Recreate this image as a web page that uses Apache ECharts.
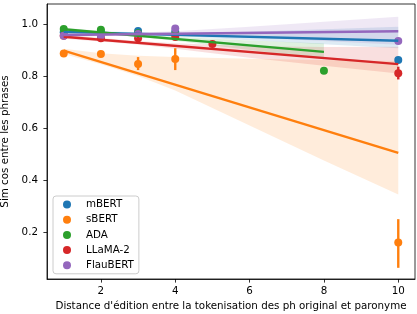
<!DOCTYPE html>
<html>
<head>
<meta charset="utf-8">
<script src="https://cdn.jsdelivr.net/npm/echarts@6/dist/echarts.min.js"></script>
<style>
	html, body {margin: 0; padding: 0; background: #fff;}
	#chart {width: 417px; height: 314px;}
</style>
</head>
<body>
<div id="chart"></div>
<script>
const models = ['mBERT', 'sBERT', 'ADA', 'LLaMA-2', 'FlauBERT'];
const colors = ['#1f77b4', '#ff7f0e', '#2ca02c', '#d62728', '#9467bd'];

const xTicks = [2, 4, 6, 8, 10];
const yTicks = [0.2, 0.4, 0.6, 0.8, 1.0];

// mean points per edit distance
const mbertX = [1, 2, 3, 4, 10];
const mbertY = [0.968, 0.970, 0.973, 0.970, 0.862];
const sbertX = [1, 2, 3, 4, 10];
const sbertY = [0.887, 0.885, 0.846, 0.866, 0.160];
const adaX = [1, 2, 3, 4, 8];
const adaY = [0.981, 0.978, 0.965, 0.962, 0.820];
const llamaX = [1, 2, 3, 4, 5, 10];
const llamaY = [0.955, 0.945, 0.945, 0.950, 0.923, 0.811];
const flauX = [1, 2, 3, 4, 10];
const flauY = [0.955, 0.955, 0.962, 0.983, 0.935];

// error bars [x, low, high]
const sbertErr = [[2, 0.875, 0.895], [3, 0.823, 0.873], [4, 0.823, 0.907], [10, 0.063, 0.250]];
const llamaErr = [[3, 0.936, 0.955], [4, 0.940, 0.962], [10, 0.787, 0.836]];
const flauErr = [[4, 0.974, 0.992]];

// regression lines (ends)
const mbertFit = [[1, 0.970], [10, 0.936]];
const sbertFit = [[1, 0.898], [10, 0.505]];
const adaFit = [[1, 0.980], [8, 0.893]];
const llamaFit = [[1, 0.951], [10, 0.846]];
const flauFit = [[1, 0.958], [10, 0.972]];

// confidence bands
const bandX = [1, 2, 3, 4, 6, 8, 10];
const mbertLo = [0.962, 0.960, 0.957, 0.953, 0.938, 0.922, 0.907];
const mbertHi = [0.978, 0.972, 0.968, 0.966, 0.970, 0.980, 0.990];
const sbertLo = [0.885, 0.845, 0.800, 0.745, 0.610, 0.475, 0.345];
const sbertHi = [0.905, 0.888, 0.878, 0.873, 0.867, 0.862, 0.858];
const adaBandX = [1, 2, 3, 4, 6, 8];
const adaLo = [0.974, 0.963, 0.950, 0.936, 0.900, 0.865];
const adaHi = [0.986, 0.973, 0.960, 0.951, 0.937, 0.925];
const llamaLo = [0.943, 0.933, 0.921, 0.905, 0.870, 0.840, 0.810];
const llamaHi = [0.959, 0.946, 0.935, 0.926, 0.915, 0.912, 0.913];
const flauLo = [0.950, 0.954, 0.956, 0.955, 0.948, 0.935, 0.920];
const flauHi = [0.966, 0.966, 0.967, 0.972, 0.990, 1.009, 1.028];

const font = 'DejaVu Sans';
const fs = 10.3;

function zip(xs, ys) {
	return xs.map(function (x, i) { return [x, ys[i]]; });
}

function pointSeries(name, xs, ys, color) {
	return {
		name: name,
		type: 'scatter',
		z: 2,
		data: zip(xs, ys),
		symbolSize: 8,
		itemStyle: {color: color, opacity: 1},
		silent: true,
	};
}

function bandSeries(name, xs, lo, hi, color) {
	return {
		name: name + ' ci',
		type: 'custom',
		z: 2,
		silent: true,
		data: xs.map(function (x, i) { return [x, lo[i], hi[i]]; }),
		encode: {x: 0, y: [1, 2]},
		renderItem: function (params, api) {
			if (params.dataIndex !== 0) return;
			const pts = [];
			for (let i = 0; i < xs.length; i++) pts.push(api.coord([xs[i], hi[i]]));
			for (let i = xs.length - 1; i >= 0; i--) pts.push(api.coord([xs[i], lo[i]]));
			return {
				type: 'polygon',
				shape: {points: pts},
				style: {fill: color, opacity: 0.15},
			};
		},
	};
}

function errSeries(name, rows, color) {
	return {
		name: name + ' err',
		type: 'custom',
		z: 3,
		silent: true,
		data: rows,
		encode: {x: 0, y: [1, 2]},
		renderItem: function (params, api) {
			const a = api.coord([api.value(0), api.value(1)]);
			const b = api.coord([api.value(0), api.value(2)]);
			return {
				type: 'line',
				shape: {x1: a[0], y1: a[1], x2: b[0], y2: b[1]},
				style: {stroke: color, lineWidth: 2.4},
			};
		},
	};
}

function fitSeries(name, pts, color) {
	return {
		name: name + ' fit',
		type: 'line',
		z: 3,
		data: pts,
		symbol: 'none',
		silent: true,
		lineStyle: {color: color, width: 2.4},
	};
}

const series = [
	pointSeries(models[0], mbertX, mbertY, colors[0]),
	bandSeries(models[0], bandX, mbertLo, mbertHi, colors[0]),
	pointSeries(models[1], sbertX, sbertY, colors[1]),
	bandSeries(models[1], bandX, sbertLo, sbertHi, colors[1]),
	pointSeries(models[2], adaX, adaY, colors[2]),
	bandSeries(models[2], adaBandX, adaLo, adaHi, colors[2]),
	pointSeries(models[3], llamaX, llamaY, colors[3]),
	bandSeries(models[3], bandX, llamaLo, llamaHi, colors[3]),
	pointSeries(models[4], flauX, flauY, colors[4]),
	bandSeries(models[4], bandX, flauLo, flauHi, colors[4]),

	fitSeries(models[0], mbertFit, colors[0]),
	errSeries(models[1], sbertErr, colors[1]),
	fitSeries(models[1], sbertFit, colors[1]),
	fitSeries(models[2], adaFit, colors[2]),
	errSeries(models[3], llamaErr, colors[3]),
	fitSeries(models[3], llamaFit, colors[3]),
	errSeries(models[4], flauErr, colors[4]),
	fitSeries(models[4], flauFit, colors[4]),
];

const chart = echarts.init(document.getElementById('chart'));
chart.setOption({
	animation: false,
	textStyle: {fontFamily: font},
	grid: {
		left: 47,
		right: 2,
		top: 4,
		bottom: 35,
		containLabel: false,
		outerBoundsMode: 'none',
		show: true,
		borderColor: '#000',
		borderWidth: 0.8,
	},
	legend: {
		data: models,
		orient: 'vertical',
		left: 53,
		top: 196,
		icon: 'circle',
		itemWidth: 8,
		itemHeight: 8,
		itemGap: 0.2,
		padding: [1, 5, 1, 10],
		selectedMode: false,
		z: 10,
		backgroundColor: 'rgba(255,255,255,0.8)',
		borderColor: '#ccc',
		borderWidth: 1,
		borderRadius: 3,
		textStyle: {fontFamily: font, fontSize: fs, color: '#000', lineHeight: 15, padding: [0, 0, 0, 10]},
	},
	xAxis: {
		type: 'value',
		min: 0.55,
		max: 10.45,
		name: "Distance d'édition entre la tokenisation des ph original et paronyme",
		nameLocation: 'middle',
		nameGap: 19,
		nameTextStyle: {fontFamily: font, fontSize: fs, color: '#000'},
		axisLine: {show: true, onZero: false, lineStyle: {color: '#000', width: 0.8}},
		axisTick: {show: true, length: 3.6, customValues: xTicks, lineStyle: {color: '#000', width: 0.8}},
		axisLabel: {margin: 7, fontSize: fs, color: '#000', fontFamily: font, customValues: xTicks},
		splitLine: {show: false},
	},
	yAxis: {
		type: 'value',
		min: 0.02,
		max: 1.077,
		name: 'Sim cos entre les phrases',
		nameLocation: 'middle',
		nameGap: 29,
		nameTextStyle: {fontFamily: font, fontSize: fs, color: '#000'},
		axisLine: {show: true, onZero: false, lineStyle: {color: '#000', width: 0.8}},
		axisTick: {show: true, length: 3.6, customValues: yTicks, lineStyle: {color: '#000', width: 0.8}},
		axisLabel: {
			margin: 9,
			fontSize: fs,
			color: '#000',
			fontFamily: font,
			customValues: yTicks,
			formatter: function (v) { return v.toFixed(1); },
		},
		splitLine: {show: false},
	},
	series: series,
});
</script>
</body>
</html>
